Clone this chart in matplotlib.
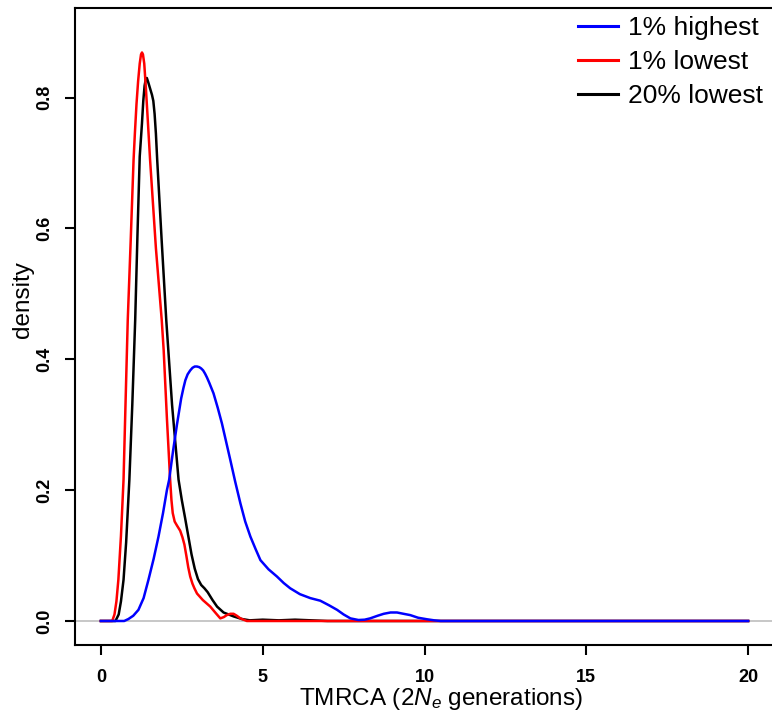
#!/usr/bin/env python3
"""TMRCA density curves for the 1% highest, 1% lowest and 20% lowest groups."""
import matplotlib
matplotlib.use("Agg")
import matplotlib.pyplot as plt

plt.rcParams["font.family"] = ["Liberation Sans", "DejaVu Sans"]
plt.rcParams["mathtext.fontset"] = "custom"
plt.rcParams["mathtext.rm"] = "Liberation Sans"
plt.rcParams["mathtext.it"] = "Liberation Sans:italic"

# values
high_x = [0, 0.72, 0.85, 1.0, 1.16, 1.32, 1.47, 1.63, 1.78, 1.92, 2.04, 2.11, 2.23, 2.35,
          2.48, 2.55, 2.61, 2.68, 2.76, 2.83, 2.90, 2.97, 3.04, 3.10, 3.16, 3.22, 3.28,
          3.35, 3.48, 3.61, 3.74, 3.87, 4.00, 4.15, 4.31, 4.46, 4.62, 4.78, 4.93, 5.18,
          5.44, 5.65, 5.85, 6.15, 6.47, 6.78, 7.05, 7.30, 7.50, 7.71, 7.96, 8.15, 8.32,
          8.55, 8.74, 8.95, 9.15, 9.35, 9.56, 9.80, 10.08, 10.3, 10.5, 20]
high_y = [0, 0, 0.003, 0.008, 0.017, 0.035, 0.063, 0.095, 0.129, 0.165, 0.200, 0.216, 0.26,
          0.300, 0.340, 0.356, 0.368, 0.377, 0.383, 0.387, 0.389, 0.389, 0.388, 0.386,
          0.383, 0.378, 0.372, 0.364, 0.348, 0.326, 0.302, 0.274, 0.246, 0.213, 0.180,
          0.152, 0.129, 0.110, 0.093, 0.079, 0.068, 0.058, 0.050, 0.041, 0.035, 0.031,
          0.024, 0.017, 0.010, 0.004, 0.0015, 0.002, 0.004, 0.008, 0.011, 0.013, 0.013,
          0.011, 0.009, 0.005, 0.0026, 0.001, 0, 0]

low1_x = [0, 0.35, 0.42, 0.48, 0.54, 0.62, 0.70, 0.76, 0.83, 0.92, 1.01, 1.05, 1.10, 1.15,
          1.20, 1.24, 1.27, 1.30, 1.34, 1.39, 1.45, 1.52, 1.60, 1.70, 1.88, 1.94, 2.04,
          2.14, 2.18, 2.22, 2.28, 2.35, 2.45, 2.52, 2.58, 2.64, 2.70, 2.76, 2.83, 2.89,
          2.97, 3.15, 3.38, 3.55, 3.69, 3.80, 3.89, 4.00, 4.10, 4.20, 4.31, 4.51, 20]
low1_y = [0, 0, 0.01, 0.03, 0.063, 0.13, 0.216, 0.33, 0.46, 0.58, 0.705, 0.745, 0.79, 0.825,
          0.852, 0.866, 0.869, 0.866, 0.852, 0.815, 0.765, 0.705, 0.645, 0.57, 0.46, 0.414,
          0.31, 0.216, 0.185, 0.165, 0.152, 0.146, 0.138, 0.128, 0.117, 0.100, 0.082,
          0.068, 0.057, 0.05, 0.042, 0.032, 0.022, 0.012, 0.004, 0.006, 0.009, 0.011,
          0.011, 0.008, 0.004, 0.0, 0]

low20_x = [0, 0.45, 0.55, 0.62, 0.70, 0.78, 0.88, 0.97, 1.06, 1.13, 1.20, 1.27, 1.31, 1.35,
           1.39, 1.42, 1.46, 1.52, 1.58, 1.62, 1.66, 1.70, 1.74, 1.88, 2.02, 2.20, 2.40,
           2.50, 2.60, 2.70, 2.80, 2.90, 3.00, 3.10, 3.20, 3.30, 3.45, 3.59, 3.79, 4.10,
           4.36, 4.6, 5.0, 5.5, 6.0, 6.5, 7.0, 20]
low20_y = [0, 0, 0.01, 0.03, 0.063, 0.12, 0.216, 0.33, 0.46, 0.59, 0.71, 0.761, 0.795,
           0.818, 0.829, 0.830, 0.824, 0.814, 0.804, 0.795, 0.775, 0.745, 0.705, 0.58,
           0.46, 0.33, 0.216, 0.185, 0.158, 0.130, 0.102, 0.080, 0.064, 0.055, 0.050,
           0.044, 0.032, 0.022, 0.013, 0.007, 0.003, 0.001, 0.002, 0.001, 0.002, 0.001, 0, 0]

labels = ["1% highest", "1% lowest", "20% lowest"]
xticks = [0, 5, 10, 15, 20]
yticks = [0.0, 0.2, 0.4, 0.6, 0.8]

W, H = 772, 717
fig = plt.figure(figsize=(W / 100, H / 100), dpi=100)
# plot box in pixels: left 75, right ~774 (clipped), top 8, bottom 645
ax = fig.add_axes([75 / W, 1 - 645 / H, (774 - 75) / W, (645 - 8) / H])
ax.set_xlim(-0.8, 20.8)
ax.set_ylim(-0.0367, 0.937)

ax.axhline(0, color="#bebebe", lw=1.2, zorder=1)
lw = 1.8
ax.plot(low20_x, low20_y, color="black", lw=lw, zorder=2)
ax.plot(low1_x, low1_y, color="red", lw=lw, zorder=3)
ax.plot(high_x, high_y, color="blue", lw=lw, zorder=4)

for s in ax.spines.values():
    s.set_linewidth(1.5)
ax.tick_params(direction="out", length=7.5, width=1.5)
ax.tick_params(axis="x", pad=10)
ax.tick_params(axis="y", pad=8)
ax.set_xticks(xticks, [f"{t:g}" for t in xticks], fontsize=13, fontweight="bold")
ax.set_yticks(yticks, [f"{t:.1f}" for t in yticks], fontsize=13, fontweight="bold",
              rotation=90, va="center")

ax.set_xlabel("TMRCA (2$N_e$ generations)", fontsize=17.5, va="center")
ax.xaxis.set_label_coords(0.524, -0.0855)
ax.set_ylabel("density", fontsize=17.5, va="center")
ax.yaxis.set_label_coords(-0.075, 0.542)

handles = [plt.Line2D([0], [0], color=c, lw=2.2) for c in ("blue", "red", "black")]
fig.legend(handles, labels, loc="upper left", bbox_to_anchor=(578 / W, 1 - 16 / H),
           frameon=False, fontsize=19, handlelength=1.5, handletextpad=0.4,
           labelspacing=0.38, borderpad=0, borderaxespad=0)

fig.savefig("out.png", dpi=100)
